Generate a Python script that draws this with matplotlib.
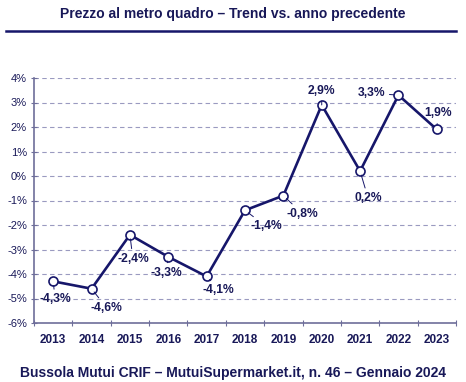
import numpy as np
import matplotlib.pyplot as plt
from matplotlib.lines import Line2D

plt.rcParams['font.family'] = ['Liberation Sans', 'DejaVu Sans']

years = ['2013', '2014', '2015', '2016', '2017', '2018', '2019', '2020', '2021', '2022', '2023']
values = [-4.3, -4.6, -2.4, -3.3, -4.1, -1.4, -0.8, 2.9, 0.2, 3.3, 1.9]
labels = ['-4,3%', '-4,6%', '-2,4%', '-3,3%', '-4,1%', '-1,4%', '-0,8%', '2,9%', '0,2%', '3,3%', '1,9%']
# label offsets in pixels (dx, dy)
offsets = [(2, -18), (15, -19), (3, -24), (-2, -16), (12, -14), (21, -16),
           (19, -18), (0, 14), (8, -27), (-27, 2), (1, 16)]

navy = '#16166a'
txt = '#181858'
gridc = '#9a9ac0'

fig = plt.figure(figsize=(4.66, 3.82), dpi=100)
ax = fig.add_axes([34/466, 1-323/382, (456-34)/466, (323-78)/382])

x = np.arange(len(years))
ax.plot(x, values, color=navy, lw=1.9, marker='o', ms=6.5, mfc='white',
        mec=navy, mew=1.2, zorder=5, clip_on=False)

for xi, v, lab, (dx, dy) in zip(x, values, labels, offsets):
    ax.annotate(lab, (xi, v), xytext=(dx, dy), textcoords='offset pixels',
                ha='center', va='center', fontsize=8.7, fontweight='bold', color=txt,
                arrowprops=dict(arrowstyle='-', color=navy, lw=0.7, shrinkA=1, shrinkB=3),
                zorder=6)

ax.set_xlim(-0.5, len(years) - 0.5)
ax.set_ylim(-6, 4)
ax.set_yticks(np.arange(-6, 5, 1))
ax.set_yticklabels([f'{t}%' for t in range(-6, 5)], fontsize=8, color=txt)
ax.set_xticks(np.arange(-0.5, len(years), 1))
ax.set_xticklabels([])
ax.set_xticks(x, minor=True)
ax.set_xticklabels(years, minor=True, fontsize=8.5, fontweight='bold', color=txt)
ax.tick_params(axis='x', which='minor', length=0, pad=8)
ax.tick_params(axis='x', which='major', length=4, direction='inout', color='#6e6e9a')
ax.tick_params(axis='y', length=4, direction='inout', color='#6e6e9a', pad=3)

for yv in range(-5, 5):
    ax.axhline(yv, color=gridc, lw=0.8, ls=(0, (4, 3)), zorder=1)

for s in ['top', 'right']:
    ax.spines[s].set_visible(False)
for s in ['left', 'bottom']:
    ax.spines[s].set_color('#6e6e9a')
    ax.spines[s].set_linewidth(1.2)

fig.text(0.5, 1-14/382, 'Prezzo al metro quadro \u2013 Trend vs. anno precedente',
         ha='center', va='center', fontsize=10, fontweight='bold', color=txt)
fig.add_artist(Line2D([6/466, 456/466], [1-31/382, 1-31/382], color=navy, lw=1.8))
fig.text(0.5, 1-373/382, 'Bussola Mutui CRIF \u2013 MutuiSupermarket.it, n. 46 \u2013 Gennaio 2024',
         ha='center', va='center', fontsize=10, fontweight='bold', color=txt)

fig.savefig('out.png', dpi=100)
